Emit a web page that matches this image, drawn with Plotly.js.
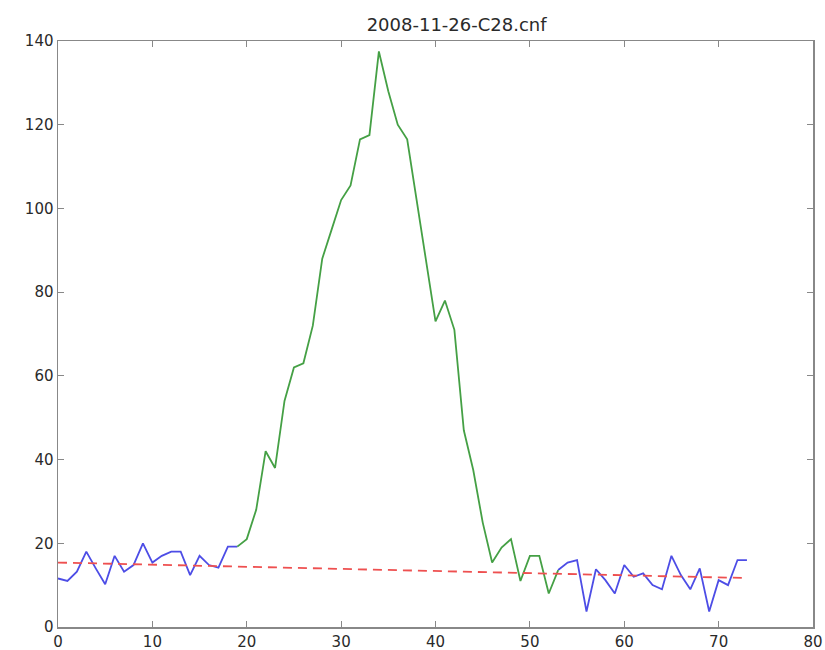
<!DOCTYPE html>
<html>
<head>
<meta charset="utf-8">
<script src="https://cdn.plot.ly/plotly-3.0.1.min.js"></script>
<style>html,body{margin:0;padding:0;background:#fff}#chart{width:825px;height:650px}</style>
</head>
<body>
<div id="chart"></div>
<script>
const titleText = "2008-11-26-C28.cnf";
const counts = [11.6, 11.0, 13.2, 18.0, 14.0, 10.2, 17.0, 13.2, 14.8, 20.0,
  15.4, 17.0, 18.0, 18.0, 12.4, 17.0, 14.8, 14.2, 19.2, 19.2,
  21, 28, 42, 38, 54, 62, 63, 72, 88, 95,
  102, 105.5, 116.5, 117.5, 137.5, 128, 120, 116.5, 102, 88,
  73, 78, 71, 47, 37.5, 25, 15.4, 19, 21, 11,
  17, 17, 8, 13.6, 15.4, 16, 3.7, 13.8, 11.2, 8,
  14.8, 12, 12.8, 10, 9, 17, 12.4, 9, 14, 3.7,
  11.2, 10, 16, 16];
const channels = counts.map((_, i) => i);
const peakStart = 19;
const peakEnd = 53;
const baselineX = [0, 73];
const baselineY = [15.4, 11.7];
const xTicks = [0, 10, 20, 30, 40, 50, 60, 70, 80];
const yTicks = [0, 20, 40, 60, 80, 100, 120, 140];

const peakX = channels.slice(peakStart, peakEnd + 1);
const peakY = counts.slice(peakStart, peakEnd + 1);
const bgY = counts.map((v, i) => (i > peakStart && i < peakEnd) ? null : v);

const traces = [
  {x: channels, y: bgY, type: 'scatter', mode: 'lines', connectgaps: false, line: {color: '#4d4de6', width: 1.8}},
  {x: peakX, y: peakY, type: 'scatter', mode: 'lines', line: {color: '#45a045', width: 1.8}},
  {x: baselineX, y: baselineY, type: 'scatter', mode: 'lines', line: {color: '#ee5050', width: 1.8, dash: '9px,6px'}}
];

const axisCommon = {
  showgrid: false, zeroline: false, showline: true, linecolor: '#888', linewidth: 1.5,
  mirror: 'ticks', ticks: 'inside', ticklen: 6, tickcolor: '#888',
  tickfont: {family: 'DejaVu Sans', size: 15, color: '#2a2a2a'}
};

const layout = {
  width: 825, height: 650,
  margin: {l: 58, r: 12, t: 41, b: 23},
  paper_bgcolor: '#fff', plot_bgcolor: '#fff',
  showlegend: false,
  title: {text: titleText, x: 0.528, xref: 'paper', xanchor: 'center', y: 0.962, yanchor: 'middle',
    font: {family: 'DejaVu Sans', size: 18, color: '#2a2a2a'}},
  xaxis: Object.assign({}, axisCommon, {range: [0, 80], tickvals: xTicks, ticktext: xTicks.map(String)}),
  yaxis: Object.assign({}, axisCommon, {range: [0, 140], tickvals: yTicks, ticktext: yTicks.map(String)})
};

Plotly.newPlot('chart', traces, layout, {displayModeBar: false, staticPlot: true});
</script>
</body>
</html>
